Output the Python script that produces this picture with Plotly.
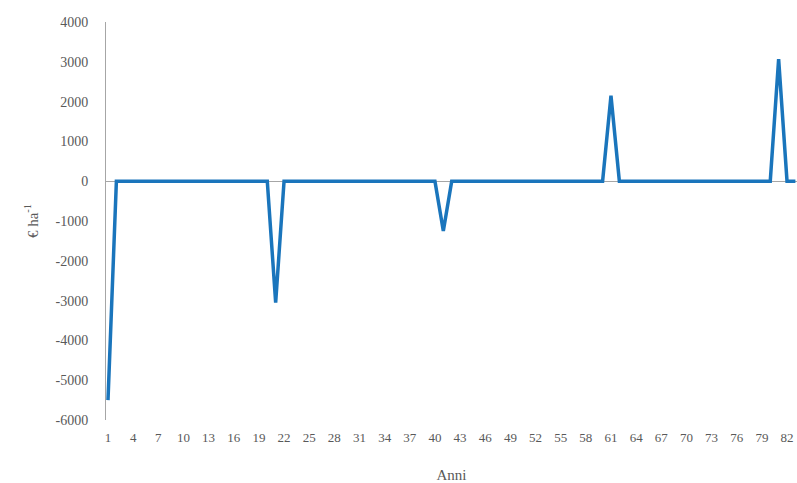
import plotly.graph_objects as go

years = list(range(1, 84))
values = [
    -5500, 0, 0, 0, 0, 0, 0, 0, 0, 0,
    0, 0, 0, 0, 0, 0, 0, 0, 0, 0,
    -3050, 0, 0, 0, 0, 0, 0, 0, 0, 0,
    0, 0, 0, 0, 0, 0, 0, 0, 0, 0,
    -1250, 0, 0, 0, 0, 0, 0, 0, 0, 0,
    0, 0, 0, 0, 0, 0, 0, 0, 0, 0,
    2150, 0, 0, 0, 0, 0, 0, 0, 0, 0,
    0, 0, 0, 0, 0, 0, 0, 0, 0, 0,
    3070, 0, 0,
]
x_ticks = list(range(1, 83, 3))
y_ticks = [4000, 3000, 2000, 1000, 0, -1000, -2000, -3000, -4000, -5000, -6000]

font_family = "Liberation Serif, Times New Roman, serif"
grey = "#595959"

fig = go.Figure()
fig.add_trace(go.Scatter(
    x=years, y=values, mode="lines",
    line=dict(color="#1a75bc", width=3.5),
    showlegend=False, cliponaxis=True,
))

fig.update_layout(
    width=797, height=483,
    margin=dict(l=106, r=0, t=22, b=63),
    paper_bgcolor="white", plot_bgcolor="white",
    font=dict(family=font_family, color=grey, size=13),
    xaxis=dict(
        range=[0.761, 83.19], automargin=False,
        tickvals=x_ticks, ticktext=[str(v) for v in x_ticks],
        showgrid=False, zeroline=False, showline=False,
        ticks="", ticklabelstandoff=8, tickfont=dict(size=13, color=grey),
        title=dict(text="Anni", font=dict(size=15, color=grey), standoff=25),
    ),
    yaxis=dict(
        range=[-6000, 4000], automargin=False,
        tickvals=y_ticks, ticktext=[str(v) for v in y_ticks],
        showgrid=False, zeroline=True, zerolinecolor="#a6a6a6", zerolinewidth=1,
        showline=True, linecolor="#a6a6a6", linewidth=1,
        ticks="", ticklabelstandoff=14,
        tickfont=dict(size=14, color=grey),
        title=dict(text="€ ha<sup>-1</sup>", font=dict(size=15, color=grey), standoff=13),
    ),
)

fig.write_html(
    "out.html",
    config={"displayModeBar": False},
    post_script="document.body.style.margin='0';document.body.style.overflow='hidden';",
)
